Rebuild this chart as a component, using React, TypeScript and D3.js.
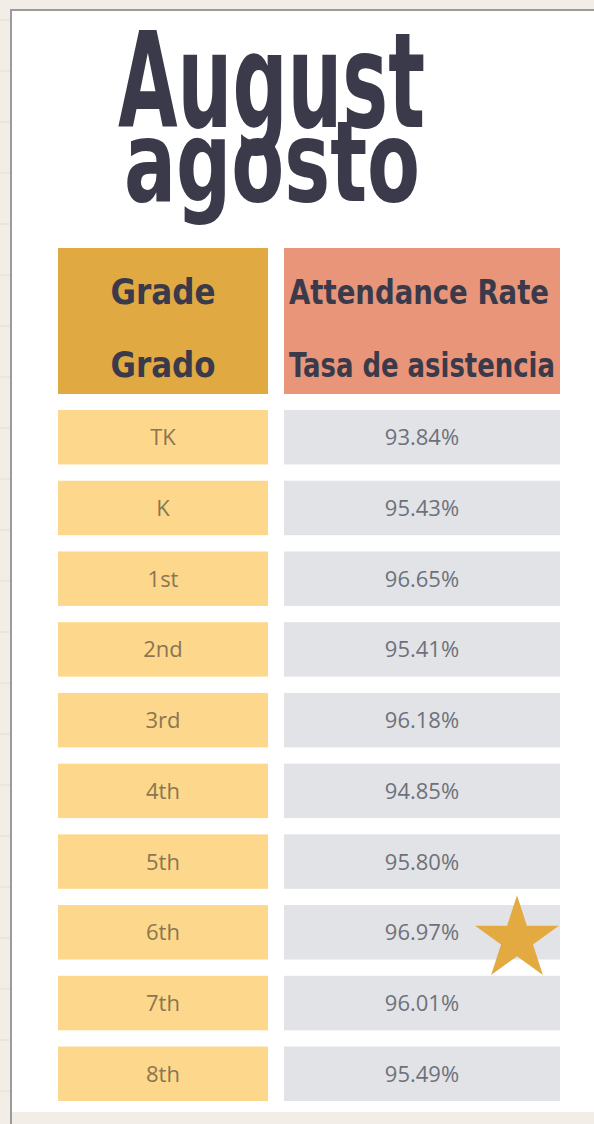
import React from 'react';
import * as d3 from 'd3';

// chart data
const grades = ['TK', 'K', '1st', '2nd', '3rd', '4th', '5th', '6th', '7th', '8th'];
const rates = [93.84, 95.43, 96.65, 95.41, 96.18, 94.85, 95.8, 96.97, 96.01, 95.49];
const titleLines = ['August', 'agosto'];
const gradeHeader = ['Grade', 'Grado'];
const rateHeader = ['Attendance Rate', 'Tasa de asistencia'];

const W = 594;
const H = 1124;

const ink = '#3a3a4a';
const headFont = '"DejaVu Sans Condensed", "DejaVu Sans", sans-serif';
const bodyFont = '"Open Sans", "Noto Sans", sans-serif';

const App: React.FC = () => {
  // columns: grade and rate
  const gradeCol = { x0: 58, x1: 268 };
  const rateCol = { x0: 284, x1: 560 };

  const y = d3.scaleBand<string>()
    .domain(grades)
    .range([410, 1101])
    .paddingInner(0.23)
    .paddingOuter(0);

  const best = d3.maxIndex(rates);
  const star = d3.symbol().type(d3.symbolStar).size(2180)();

  // faint notebook lines on the left margin
  const lines = d3.range(20, H, 51);

  const fmt = (v: number) => `${v.toFixed(2)}%`;
  const gcx = (gradeCol.x0 + gradeCol.x1) / 2;
  const rcx = (rateCol.x0 + rateCol.x1) / 2;

  return (
    <div style={{ position: 'absolute', left: 0, top: 0 }}>
      <svg width={W} height={H} style={{ display: 'block' }}>
        <rect width={W} height={H} fill="#f2eee7" />
        {lines.map(l => (
          <line key={l} x1={0} x2={10} y1={l} y2={l} stroke="#e2ddd4" strokeWidth={1} />
        ))}
        {/* card */}
        <rect x={11} y={10} width={W - 11} height={1102} fill="#ffffff" />
        <line x1={10} x2={W} y1={10} y2={10} stroke="#9b9b9b" strokeWidth={2} />
        <line x1={11} x2={11} y1={10} y2={H} stroke="#9b9b9b" strokeWidth={2} />

        {/* title */}
        <text x={118} y={127} fontFamily={headFont} fontWeight="bold" fontSize={132}
          fill={ink} textLength={307} lengthAdjust="spacingAndGlyphs">{titleLines[0]}</text>
        <text x={124} y={201} fontFamily={headFont} fontWeight="bold" fontSize={112}
          fill={ink} textLength={296} lengthAdjust="spacingAndGlyphs">{titleLines[1]}</text>

        {/* header */}
        <rect x={gradeCol.x0} y={248} width={gradeCol.x1 - gradeCol.x0} height={146} fill="#e1a942" />
        <rect x={rateCol.x0} y={248} width={rateCol.x1 - rateCol.x0} height={146} fill="#e8957a" />
        {gradeHeader.map((t, i) => (
          <text key={t} x={gcx} y={304 + i * 73} textAnchor="middle" fontFamily={headFont}
            fontWeight="bold" fontSize={36} fill={ink} textLength={105}
            lengthAdjust="spacingAndGlyphs">{t}</text>
        ))}
        {rateHeader.map((t, i) => (
          <text key={t} x={rcx + (i ? 0 : -3)} y={304 + i * 73} textAnchor="middle" fontFamily={headFont}
            fontWeight="bold" fontSize={34} fill={ink} textLength={i ? 266 : 260}
            lengthAdjust="spacingAndGlyphs">{t}</text>
        ))}

        {/* rows */}
        {grades.map((g, i) => {
          const y0 = y(g)!;
          const bw = y.bandwidth();
          return (
            <g key={g}>
              <rect x={gradeCol.x0} y={y0} width={gradeCol.x1 - gradeCol.x0} height={bw} fill="#fdd88c" />
              <rect x={rateCol.x0} y={y0} width={rateCol.x1 - rateCol.x0} height={bw} fill="#e1e3e7" />
              <text x={gcx} y={y0 + bw / 2 + 8} textAnchor="middle" fontFamily={bodyFont}
                fontSize={22} fill="#8a7650">{g}</text>
              <text x={rcx} y={y0 + bw / 2 + 8} textAnchor="middle" fontFamily={bodyFont}
                fontSize={22} fill="#6f717a">{fmt(rates[i])}</text>
            </g>
          );
        })}

        {/* star on best grade */}
        <path d={star ?? ''} fill="#e2aa40"
          transform={`translate(${517},${y(grades[best])! + y.bandwidth() / 2 + 7})`} />
      </svg>
    </div>
  );
};

export default App;
